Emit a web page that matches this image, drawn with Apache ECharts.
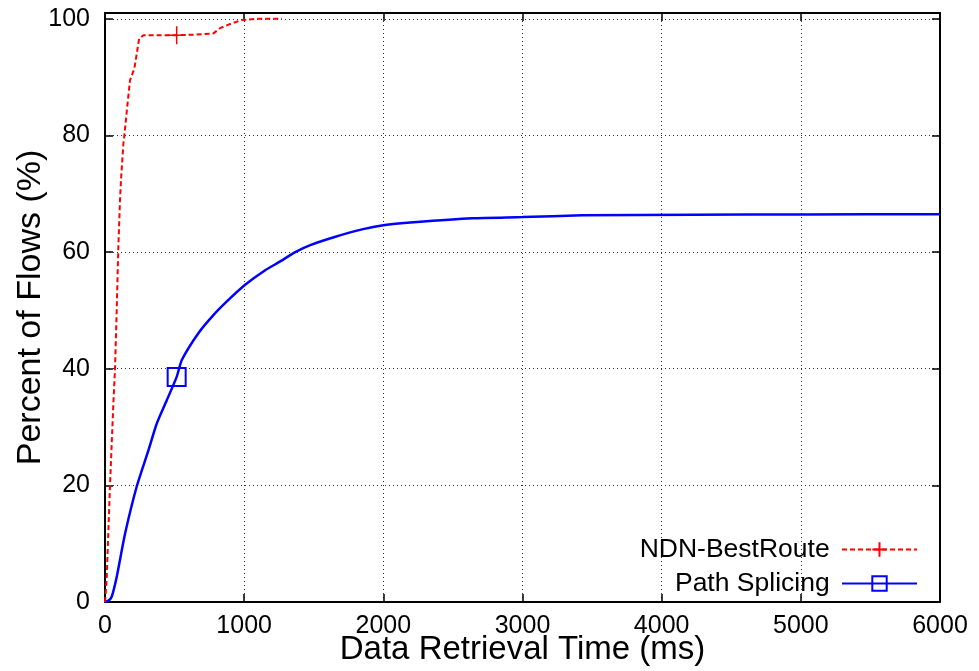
<!DOCTYPE html>
<html>
<head>
<meta charset="utf-8">
<script src="https://cdn.jsdelivr.net/npm/echarts@6/dist/echarts.min.js"></script>
<style>
html,body{margin:0;padding:0;background:#fff;}
#chart{width:979px;height:671px;}
</style>
</head>
<body>
<div id="chart"></div>
<script>
// ---- data ----
const seriesNames = ['NDN-BestRoute', 'Path Splicing'];
const xTitle = 'Data Retrieval Time (ms)';
const yTitle = 'Percent of Flows (%)';

const bestRouteX = [0, 5, 12, 24, 36, 48, 60, 72, 84, 96, 108, 115, 132, 139, 160, 180, 211, 228, 245, 276, 400, 515, 650, 779, 827, 887, 983, 1100, 1271];
const bestRouteY = [0, 1.5, 4, 12, 20, 27, 34, 40, 50, 61, 69, 72.4, 78.6, 80, 85, 89.5, 91.5, 94, 96.6, 97.2, 97.2, 97.2, 97.3, 97.5, 98.4, 99, 99.8, 100, 100];
const bestRouteMarker = 21;

const splicingX = [0, 24, 48, 84, 144, 228, 312, 372, 444, 515, 552, 671, 779, 887, 1007, 1151, 1259, 1367, 1475, 1650, 1847, 2000, 2218, 2638, 3000, 3429, 4226, 5012, 6000];
const splicingY = [0, 0.2, 0.9, 4.3, 11.7, 19.8, 26, 30.6, 34.6, 38.6, 41.5, 46.1, 49.2, 51.8, 54.4, 56.9, 58.4, 60.0, 61.2, 62.6, 63.9, 64.6, 65.1, 65.8, 66.0, 66.3, 66.4, 66.45, 66.5];
const splicingMarker = 9;

// ---- build ----
function build(xs, ys, markerIdx) {
  return xs.map((x, i) => i === markerIdx ? { value: [x, ys[i]] } : { value: [x, ys[i]], symbol: 'none' });
}

const FONT = 'Liberation Sans, Arial, Helvetica, sans-serif';
const plusPath = 'path://M0,9L18,9M9,0L9,18';

const chart = echarts.init(document.getElementById('chart'), null, { renderer: 'canvas' });

const axisLine = { show: true, onZero: false, lineStyle: { color: '#000', width: 2 } };
const tick = { show: true, inside: true, length: 8, lineStyle: { color: '#000', width: 1.5 } };
const grid = { show: true, lineStyle: { color: '#333', width: 1, type: [1, 3] } };

chart.setOption({
  animation: false,
  backgroundColor: '#fff',
  textStyle: { fontFamily: FONT },
  grid: { left: 105, right: 39, top: 13, bottom: 69, containLabel: false, outerBoundsMode: 'none' },
  legend: {
    orient: 'vertical',
    right: 56,
    top: 531,
    align: 'right',
    itemWidth: 75,
    itemHeight: 18,
    itemGap: 7,
    textStyle: { fontSize: 26.5, color: '#000', fontFamily: FONT },
    formatter: name => name + ' ',
    data: seriesNames
  },
  xAxis: [
    {
      type: 'value', min: 0, max: 6000, interval: 1000, position: 'bottom',
      axisLine: axisLine, axisTick: tick,
      axisLabel: { fontSize: 25, color: '#000', margin: 12, fontFamily: FONT, formatter: v => String(v) },
      splitLine: grid,
      name: xTitle, nameLocation: 'middle', nameGap: 31, nameMoveOverlap: false,
      nameTextStyle: { fontSize: 33, color: '#000', fontFamily: FONT }
    },
    {
      type: 'value', min: 0, max: 6000, interval: 1000, position: 'top',
      axisLine: axisLine, axisTick: tick, axisLabel: { show: false }, splitLine: { show: false }
    }
  ],
  yAxis: [
    {
      type: 'value', min: 0, max: 101, interval: 20, position: 'left',
      axisLine: axisLine, axisTick: tick,
      axisLabel: { fontSize: 25, color: '#000', margin: 15, fontFamily: FONT,
        formatter: v => (v % 20 === 0 ? String(v) : '') },
      splitLine: grid,
      name: yTitle, nameLocation: 'middle', nameGap: 57, nameRotate: 90, nameMoveOverlap: false,
      nameTextStyle: { fontSize: 34, color: '#000', fontFamily: FONT }
    },
    {
      type: 'value', min: 0, max: 101, interval: 20, position: 'right',
      axisLine: axisLine, axisTick: tick, axisLabel: { show: false }, splitLine: { show: false }
    }
  ],
  series: [
    {
      name: seriesNames[0], type: 'line', xAxisIndex: 0, yAxisIndex: 0,
      data: build(bestRouteX, bestRouteY, bestRouteMarker),
      color: '#ff0000',
      symbol: plusPath, symbolSize: 18, showSymbol: true,
      itemStyle: { color: '#ff0000', borderColor: '#ff0000', borderWidth: 1.5 },
      lineStyle: { color: '#ff0000', width: 2, type: [5, 3] },
      emphasis: { disabled: true }, z: 3
    },
    {
      name: seriesNames[1], type: 'line', xAxisIndex: 0, yAxisIndex: 0,
      data: build(splicingX, splicingY, splicingMarker),
      color: '#0000ff', smooth: 0.2,
      symbol: 'rect', symbolSize: 18, showSymbol: true,
      itemStyle: { color: 'rgba(0,0,0,0)', borderColor: '#0000ff', borderWidth: 2 },
      lineStyle: { color: '#0000ff', width: 2.5 },
      emphasis: { disabled: true }, z: 2
    }
  ]
});
</script>
</body>
</html>
